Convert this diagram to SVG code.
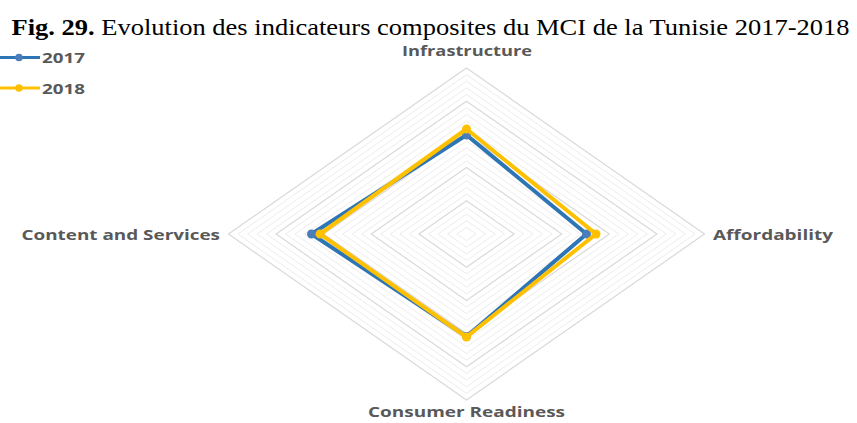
<svg xmlns="http://www.w3.org/2000/svg" width="857" height="423" viewBox="0 0 857 423">
<style>
.title{font-family:"Liberation Serif",serif;font-size:22.5px;fill:#000}
.lbl{font-family:"Open Sans","Liberation Sans",sans-serif;font-weight:bold;font-size:13.5px;fill:#595959}
.minor{fill:none;stroke:#ececec;stroke-width:1}
.major{fill:none;stroke:#d9d9d9;stroke-width:1.2}
.s17{fill:none;stroke:#2E75B6;stroke-width:4;stroke-linejoin:round}
.s18{fill:none;stroke:#FFC000;stroke-width:4;stroke-linejoin:round}
.d17{fill:#4A7EBB}
.d18{fill:#FFC000}
</style>
<rect width="857" height="423" fill="#fff"/>
<text class="title" x="11.5" y="35" textLength="838" lengthAdjust="spacingAndGlyphs"><tspan font-weight="bold">Fig. 29.</tspan> Evolution des indicateurs composites du MCI de la Tunisie 2017-2018</text>
<g id="legend">
<line x1="0" y1="57.5" x2="40" y2="57.5" stroke="#2E75B6" stroke-width="3"/>
<circle class="d17" cx="19" cy="57.5" r="3.8"/>
<text class="lbl" x="42" y="63" textLength="43" lengthAdjust="spacingAndGlyphs">2017</text>
<line x1="0" y1="88" x2="40" y2="88" stroke="#FFC000" stroke-width="3"/>
<circle class="d18" cx="19" cy="88" r="3.8"/>
<text class="lbl" x="42" y="93.5" textLength="43" lengthAdjust="spacingAndGlyphs">2018</text>
</g>
<g id="grid">
<polygon class="minor" points="466.5,227.36 476.02,234 466.5,240.64 456.98,234"/>
<polygon class="minor" points="466.5,220.72 485.54,234 466.5,247.28 447.46,234"/>
<polygon class="minor" points="466.5,214.08 495.06,234 466.5,253.92 437.94,234"/>
<polygon class="minor" points="466.5,207.44 504.58,234 466.5,260.56 428.42,234"/>
<polygon class="major" points="466.5,200.8 514.1,234 466.5,267.2 418.9,234"/>
<polygon class="minor" points="466.5,194.16 523.62,234 466.5,273.84 409.38,234"/>
<polygon class="minor" points="466.5,187.52 533.14,234 466.5,280.48 399.86,234"/>
<polygon class="minor" points="466.5,180.88 542.66,234 466.5,287.12 390.34,234"/>
<polygon class="minor" points="466.5,174.24 552.18,234 466.5,293.76 380.82,234"/>
<polygon class="major" points="466.5,167.6 561.7,234 466.5,300.4 371.3,234"/>
<polygon class="minor" points="466.5,160.96 571.22,234 466.5,307.04 361.78,234"/>
<polygon class="minor" points="466.5,154.32 580.74,234 466.5,313.68 352.26,234"/>
<polygon class="minor" points="466.5,147.68 590.26,234 466.5,320.32 342.74,234"/>
<polygon class="minor" points="466.5,141.04 599.78,234 466.5,326.96 333.22,234"/>
<polygon class="major" points="466.5,134.4 609.3,234 466.5,333.6 323.7,234"/>
<polygon class="minor" points="466.5,127.76 618.82,234 466.5,340.24 314.18,234"/>
<polygon class="minor" points="466.5,121.12 628.34,234 466.5,346.88 304.66,234"/>
<polygon class="minor" points="466.5,114.48 637.86,234 466.5,353.52 295.14,234"/>
<polygon class="minor" points="466.5,107.84 647.38,234 466.5,360.16 285.62,234"/>
<polygon class="major" points="466.5,101.2 656.9,234 466.5,366.8 276.1,234"/>
<polygon class="minor" points="466.5,94.56 666.42,234 466.5,373.44 266.58,234"/>
<polygon class="minor" points="466.5,87.92 675.94,234 466.5,380.08 257.06,234"/>
<polygon class="minor" points="466.5,81.28 685.46,234 466.5,386.72 247.54,234"/>
<polygon class="minor" points="466.5,74.64 694.98,234 466.5,393.36 238.02,234"/>
<polygon class="major" points="466.5,68 704.5,234 466.5,400 228.5,234"/>
</g>
<g id="axis-labels">
<text id="infrastructure" class="lbl" x="402" y="56" textLength="130" lengthAdjust="spacingAndGlyphs">Infrastructure</text>
<text id="affordability" class="lbl" x="713" y="240" textLength="120" lengthAdjust="spacingAndGlyphs">Affordability</text>
<text id="consumer-readiness" class="lbl" x="368" y="417" textLength="197" lengthAdjust="spacingAndGlyphs">Consumer Readiness</text>
<text id="content-services" class="lbl" x="21.5" y="240" textLength="198.5" lengthAdjust="spacingAndGlyphs">Content and Services</text>
</g>
<g id="series">
<g id="s2017">
<polygon class="s17" points="466.5,135 586.5,234 466.5,336.5 311.5,234"/>
<circle class="d17" cx="466.5" cy="135" r="4.5"/>
<circle class="d17" cx="586.5" cy="234" r="4.5"/>
<circle class="d17" cx="466.5" cy="336.5" r="4.5"/>
<circle class="d17" cx="311.5" cy="234" r="4.5"/>
</g>
<g id="s2018">
<polygon class="s18" points="466.5,129 596,234 466.5,337 320,234"/>
<circle class="d18" cx="466.5" cy="129" r="4.5"/>
<circle class="d18" cx="596" cy="234" r="4.5"/>
<circle class="d18" cx="466.5" cy="337" r="4.5"/>
<circle class="d18" cx="320" cy="234" r="4.5"/>
</g>
</g>
</svg>
